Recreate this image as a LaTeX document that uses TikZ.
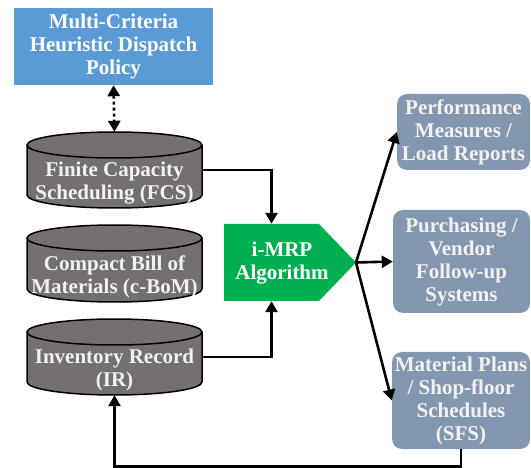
\documentclass[tikz,border=0pt]{standalone}
\usepackage{fontspec}
\setmainfont{Liberation Serif}
\usetikzlibrary{arrows.meta}

\definecolor{policyblue}{HTML}{5B9BD5}
\definecolor{drumgray}{HTML}{747070}
\definecolor{algogreen}{HTML}{00B050}
\definecolor{slateblue}{HTML}{8497B0}
\definecolor{softwhite}{HTML}{F2F2F2}

% database drum: name, centre x, top y, bottom y, label
\newcommand\dbcyl[5]{%
  \fill[drumgray] ({#2-87.5},{#3+13}) -- ({#2-87.5},{#4-13})
    arc[start angle=180,end angle=360,x radius=87.5pt,y radius=13pt]
    -- ({#2+87.5},{#3+13})
    arc[start angle=0,end angle=180,x radius=87.5pt,y radius=13pt] -- cycle;
  \draw[drumline] ({#2-87.5},{#3+13}) -- ({#2-87.5},{#4-13})
    arc[start angle=180,end angle=360,x radius=87.5pt,y radius=13pt]
    -- ({#2+87.5},{#3+13});
  \draw[drumline] ({#2},{#3+13}) ellipse[x radius=87.5pt,y radius=13pt];
  \node[inner sep=0pt, minimum width=175pt, minimum height={(#4-#3)*1pt}]
    (#1) at ({#2},{(#3+#4)/2}) {};
  \node[drumtext] (#1label) at ({#2},{(#3+26+#4)/2}) {#5};
}

\begin{document}
\begin{tikzpicture}[x=1pt,y=-1pt,
  font=\fontsize{21}{23}\selectfont\bfseries,
  drumline/.style={line width=1.5pt, black},
  drumtext/.style={text=softwhite, align=center, inner sep=0pt},
  policybox/.style={fill=policyblue, text=white, align=center, inner sep=0pt},
  outbox/.style={fill=slateblue, rounded corners=10pt, text=softwhite, align=center, inner sep=0pt},
  link/.style={line width=2.6pt, -{Triangle[length=11pt,width=12pt]}},
  dotlink/.style={line width=2.6pt, dash pattern=on 3pt off 3pt,
    {Triangle[length=11pt,width=12pt]}-{Triangle[length=11pt,width=12pt]}}]

\useasboundingbox (0,0) rectangle (531,468);

% dispatch policy
\node[policybox, minimum width=199pt, minimum height=77pt] (policy) at (113.5,46.5)
  {Multi-Criteria\\Heuristic Dispatch\\Policy};

% data stores
\dbcyl{fcs}{114.5}{132}{208}{Finite Capacity\\Scheduling (FCS)}
\dbcyl{cbom}{114.5}{225}{302}{Compact Bill of\\Materials (c-BoM)}
\dbcyl{ir}{114.5}{319}{395}{Inventory Record\\(IR)}

% i-MRP engine
\fill[algogreen] (224,224) -- (319,224) -- (356,262.5) -- (319,301) -- (224,301) -- cycle;
\node[inner sep=0pt, minimum width=95pt, minimum height=77pt] (mrp) at (271.5,262.5) {};
\node[text=white, align=center, inner sep=0pt] (mrplabel) at (282,263) {i-MRP\\Algorithm};
\coordinate (tip) at (356,262.5);

% outputs
\node[outbox, minimum width=133pt, minimum height=76pt] (perf) at (463.5,132)
  {Performance\\Measures /\\Load Reports};
\node[outbox, minimum width=137pt, minimum height=103pt] (purch) at (461.5,261.5)
  {Purchasing /\\Vendor\\Follow-up\\Systems};
\node[outbox, minimum width=138pt, minimum height=97pt] (sfs) at (461,400.5)
  {Material Plans\\/ Shop-floor\\Schedules\\(SFS)};

% connectors
\draw[dotlink] (policy.south) -- (fcs.north);
\draw[link] (fcs.east) -| (mrp.north);
\draw[link] (ir.east) -| (mrp.south);
\draw[link] (tip) -- (perf.west);
\draw[link] (tip) -- (purch.west);
\draw[link] (tip) -- (sfs.west);
\draw[link] (sfs.south) -- ++(0,17) -| (ir.south);
\end{tikzpicture}
\end{document}
